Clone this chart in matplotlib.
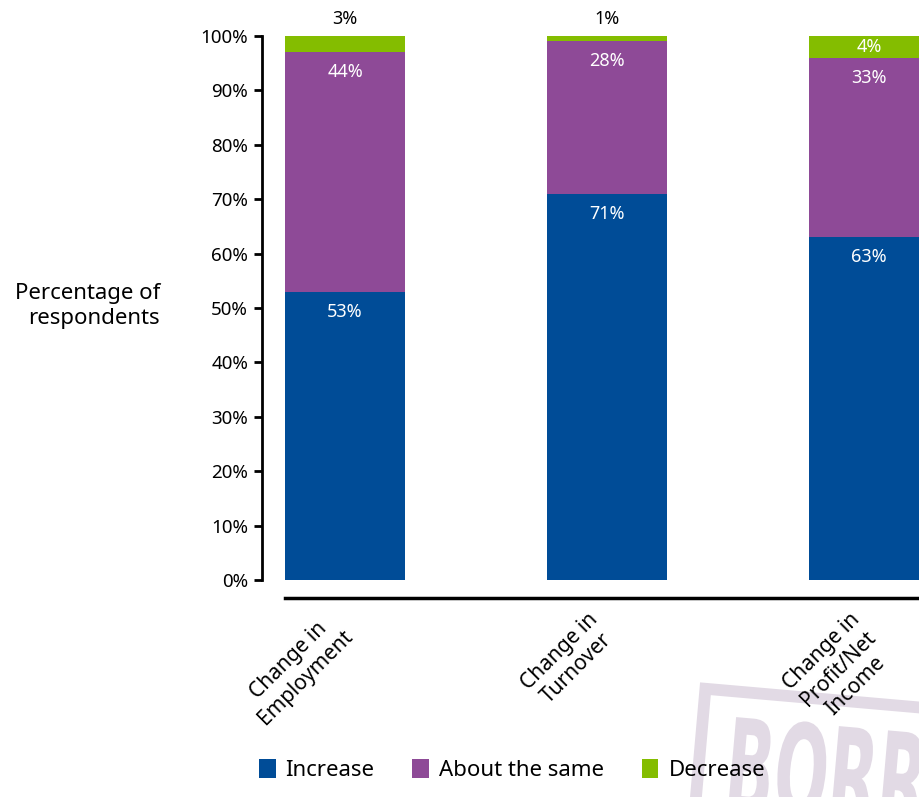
import matplotlib
matplotlib.use('Agg')
import matplotlib.pyplot as plt
import numpy as np
from matplotlib.patches import PathPatch, Rectangle
from matplotlib.textpath import TextPath
from matplotlib.font_manager import FontProperties
from matplotlib.transforms import Affine2D, IdentityTransform, ScaledTranslation

plt.rcParams['font.family'] = ['Noto Sans', 'DejaVu Sans']

categories = ['Change in\nEmployment', 'Change in\nTurnover', 'Change in\nProfit/Net\nIncome']
increase = [53, 71, 63]
same = [44, 28, 33]
decrease = [3, 1, 4]
yticks = [0, 10, 20, 30, 40, 50, 60, 70, 80, 90, 100]

c_inc = '#004C97'
c_same = '#8E4A97'
c_dec = '#84BD00'
c_stamp = '#E2DAE5'

fig = plt.figure(figsize=(9.2, 7.97), dpi=100)
ax = fig.add_axes([262 / 920, 1 - 580 / 797, 1 - 262 / 920, (580 - 36) / 797])

# spines first: moving a spine resets the ticks
for s in ['top', 'right']:
    ax.spines[s].set_visible(False)
ax.spines['left'].set_linewidth(2)
ax.spines['bottom'].set_position(('outward', 13))
ax.spines['bottom'].set_linewidth(2.5)

x = np.arange(len(categories))
w = 0.46
ax.bar(x, increase, w, color=c_inc, label='Increase')
ax.bar(x, same, w, bottom=increase, color=c_same, label='About the same')
bot2 = np.array(increase) + np.array(same)
ax.bar(x, decrease, w, bottom=bot2, color=c_dec, label='Decrease')

for i in range(len(x)):
    ax.text(x[i], increase[i] - 2, f'{increase[i]}%', color='white', ha='center', va='top',
            fontsize=13, fontweight='medium')
    ax.text(x[i], bot2[i] - 2, f'{same[i]}%', color='white', ha='center', va='top',
            fontsize=13, fontweight='medium')
    if decrease[i] >= 4:
        ax.text(x[i], bot2[i] + decrease[i] / 2, f'{decrease[i]}%', color='white',
                ha='center', va='center', fontsize=13, fontweight='medium')
    else:
        ax.text(x[i], 101.5, f'{decrease[i]}%', color='black', ha='center', va='bottom',
                fontsize=13, fontweight='medium', clip_on=False)

ax.set_xlim(-0.317, 2.195)
ax.set_ylim(0, 100)
ax.spines['left'].set_bounds(0, 100)
ax.spines['bottom'].set_bounds(-0.23, 2.3)
ax.set_yticks(yticks)
ax.set_yticklabels([f'{t}%' for t in yticks], fontsize=13.5, fontweight='medium')
ax.set_xticks(x)
ax.set_xticklabels(categories, fontsize=15, multialignment='center',
                   rotation=45, ha='right', va='top', rotation_mode='anchor')
ax.tick_params(axis='x', length=0, pad=8)
ax.tick_params(axis='y', length=6, width=2, pad=4)
shift = ScaledTranslation(-0.2, 0, fig.dpi_scale_trans)
for lab in ax.get_xticklabels():
    lab.set_transform(lab.get_transform() + shift)

fig.text(160 / 920, 1 - 306 / 797, 'Percentage of\nrespondents', ha='right', va='center',
         fontsize=16, fontweight='medium', multialignment='right')

fig.legend(loc='lower center', bbox_to_anchor=(512 / 920, -0.005), ncol=3, frameon=False,
           fontsize=16, handlelength=0.75, handleheight=0.9, handletextpad=0.45,
           columnspacing=1.7)

# faint stamp in the lower right corner (pixel coordinates)
rect = Rectangle((688, -91), 400, 200, angle=-5, fill=False, ec=c_stamp, lw=8.5,
                 transform=IdentityTransform(), zorder=-2)
fig.add_artist(rect)
tp = TextPath((0, 0), 'BORROWED', size=1, prop=FontProperties(family='DejaVu Sans', weight='bold'))
tr = Affine2D().scale(64, 130).rotate_deg(-5).translate(722, -14)
fig.add_artist(PathPatch(tr.transform_path(tp), fc=c_stamp, ec='none',
                         transform=IdentityTransform(), zorder=-2))

fig.savefig('out.png', dpi=100)
plt.close()
